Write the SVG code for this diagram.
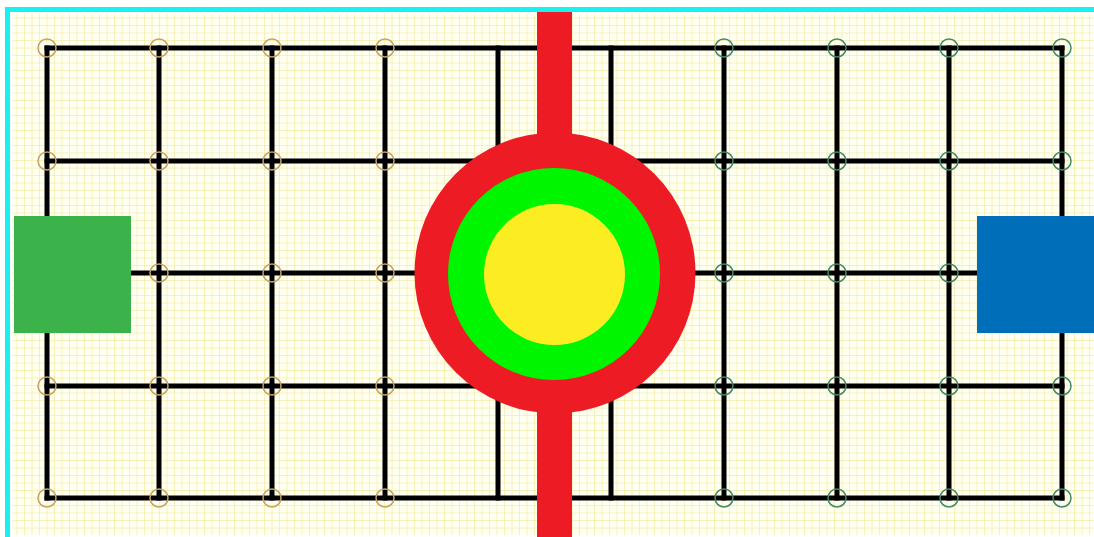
<svg xmlns="http://www.w3.org/2000/svg" width="1094" height="537" viewBox="0 0 1094 537">
<defs>
<style>
.bl{stroke:#000;stroke-width:5;fill:none;stroke-linecap:square}
.jl{fill:none;stroke:#c9a35c;stroke-width:1.5}
.jr{fill:none;stroke:#3f8a68;stroke-width:1.5}
</style>
<pattern id="minor" x="2.5" y="3.5" width="7.5" height="7.5" patternUnits="userSpaceOnUse">
<path d="M7.5 0V7.5M0 7.5H7.5" stroke="#efe486" stroke-width="1" fill="none"/>
</pattern>
</defs>
<rect x="0" y="0" width="1094" height="537" fill="#ffffff"/>
<rect x="5" y="7" width="1089" height="530" fill="#19f0f0"/>
<rect x="10" y="12" width="1084" height="525" fill="#ffffff"/>
<rect x="12" y="14" width="1082" height="521" fill="#fffff2"/>
<rect x="12" y="14" width="1082" height="521" fill="url(#minor)"/>
<g id="connectors">
<line class="bl" x1="47" y1="48" x2="1062" y2="48"/>
<line class="bl" x1="47" y1="161" x2="1062" y2="161"/>
<line class="bl" x1="47" y1="273" x2="1062" y2="273"/>
<line class="bl" x1="47" y1="386" x2="1062" y2="386"/>
<line class="bl" x1="47" y1="498" x2="1062" y2="498"/>
<line class="bl" x1="47" y1="48" x2="47" y2="498"/>
<line class="bl" x1="159" y1="48" x2="159" y2="498"/>
<line class="bl" x1="272" y1="48" x2="272" y2="498"/>
<line class="bl" x1="385" y1="48" x2="385" y2="498"/>
<line class="bl" x1="498" y1="48" x2="498" y2="498"/>
<line class="bl" x1="611" y1="48" x2="611" y2="498"/>
<line class="bl" x1="724" y1="48" x2="724" y2="498"/>
<line class="bl" x1="837" y1="48" x2="837" y2="498"/>
<line class="bl" x1="949" y1="48" x2="949" y2="498"/>
<line class="bl" x1="1062" y1="48" x2="1062" y2="498"/>
</g>
<g id="junctions-left">
<circle class="jl" cx="47" cy="48" r="9"/><circle class="jl" cx="159" cy="48" r="9"/><circle class="jl" cx="272" cy="48" r="9"/><circle class="jl" cx="385" cy="48" r="9"/>
<circle class="jl" cx="47" cy="161" r="9"/><circle class="jl" cx="159" cy="161" r="9"/><circle class="jl" cx="272" cy="161" r="9"/><circle class="jl" cx="385" cy="161" r="9"/>
<circle class="jl" cx="47" cy="273" r="9"/><circle class="jl" cx="159" cy="273" r="9"/><circle class="jl" cx="272" cy="273" r="9"/><circle class="jl" cx="385" cy="273" r="9"/>
<circle class="jl" cx="47" cy="386" r="9"/><circle class="jl" cx="159" cy="386" r="9"/><circle class="jl" cx="272" cy="386" r="9"/><circle class="jl" cx="385" cy="386" r="9"/>
<circle class="jl" cx="47" cy="498" r="9"/><circle class="jl" cx="159" cy="498" r="9"/><circle class="jl" cx="272" cy="498" r="9"/><circle class="jl" cx="385" cy="498" r="9"/>
</g>
<g id="junctions-right">
<circle class="jr" cx="724" cy="48" r="9"/><circle class="jr" cx="837" cy="48" r="9"/><circle class="jr" cx="949" cy="48" r="9"/><circle class="jr" cx="1062" cy="48" r="9"/>
<circle class="jr" cx="724" cy="161" r="9"/><circle class="jr" cx="837" cy="161" r="9"/><circle class="jr" cx="949" cy="161" r="9"/><circle class="jr" cx="1062" cy="161" r="9"/>
<circle class="jr" cx="724" cy="273" r="9"/><circle class="jr" cx="837" cy="273" r="9"/><circle class="jr" cx="949" cy="273" r="9"/><circle class="jr" cx="1062" cy="273" r="9"/>
<circle class="jr" cx="724" cy="386" r="9"/><circle class="jr" cx="837" cy="386" r="9"/><circle class="jr" cx="949" cy="386" r="9"/><circle class="jr" cx="1062" cy="386" r="9"/>
<circle class="jr" cx="724" cy="498" r="9"/><circle class="jr" cx="837" cy="498" r="9"/><circle class="jr" cx="949" cy="498" r="9"/><circle class="jr" cx="1062" cy="498" r="9"/>
</g>
<g id="green-node"><rect x="14" y="216" width="117" height="117" fill="#3bb34a"/></g>
<g id="blue-node"><rect x="977" y="216" width="117" height="117" fill="#006eb8"/></g>
<g id="center">
<rect x="537" y="12" width="35" height="525" fill="#ed1c24"/>
<circle cx="555" cy="273" r="140.5" fill="#ed1c24"/>
<circle cx="554" cy="274" r="106" fill="#00f500"/>
<circle cx="554.5" cy="274.5" r="70.5" fill="#fced23"/>
</g>
</svg>
